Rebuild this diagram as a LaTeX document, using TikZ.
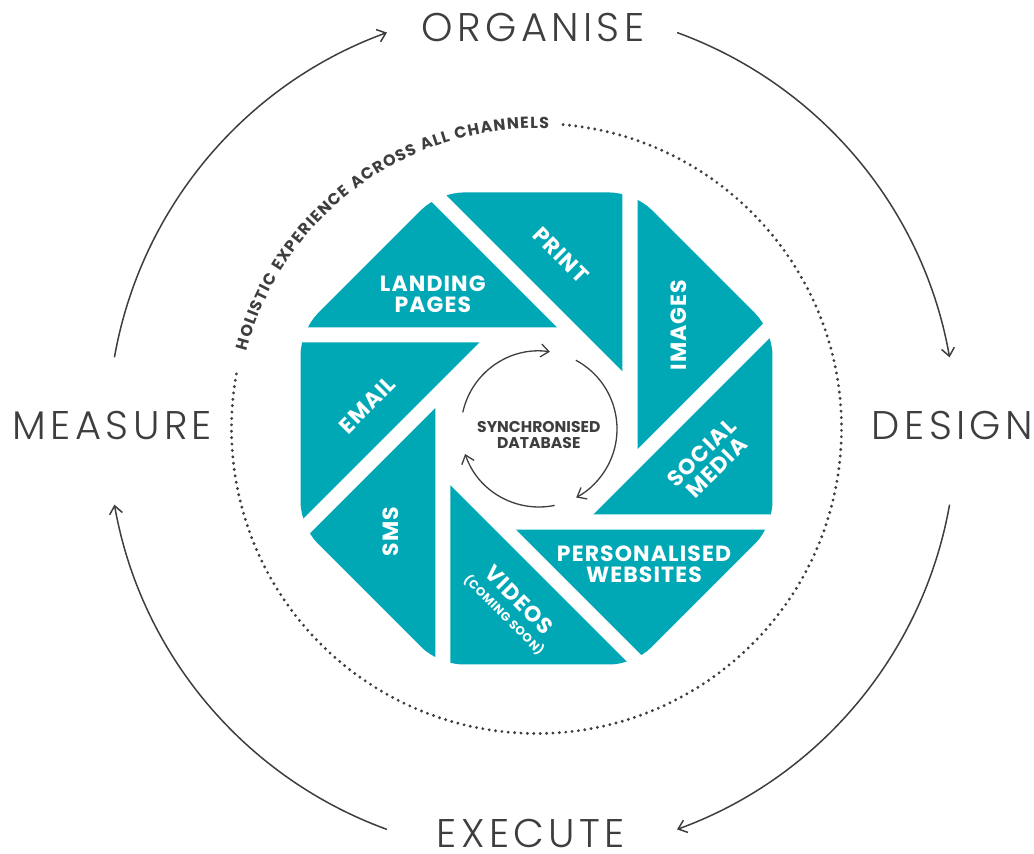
\documentclass[tikz,border=0pt]{standalone}
\usepackage{fontspec}
\setmainfont{Poppins}
\newfontfamily\thinfont[LetterSpace=11]{Poppins Light}
\newfontfamily\labelfont[LetterSpace=5]{Poppins}
\usetikzlibrary{arrows.meta,decorations.text}

\definecolor{shutter}{RGB}{0,168,181}
\definecolor{ink}{RGB}{62,62,64}

\tikzset{
  blade/.style={fill=shutter},
  bladetext/.style={text=white, font=\labelfont\bfseries\fontsize{11}{10.5}\selectfont, align=center, inner sep=0pt},
  stage/.style={text=ink, font=\thinfont\fontsize{20}{20}\selectfont, inner sep=0pt},
  cyclearrow/.style={draw=ink, line width=0.75pt, -{Straight Barb[length=4pt,width=6.5pt]}},
  dots/.style={draw=ink, line width=1.6pt, line cap=round, dash pattern=on 0pt off 3.2pt},
}

\begin{document}
\begin{tikzpicture}[x=0.5pt, y=0.5pt]
\useasboundingbox (-536.5,-425.5) rectangle (497.5,428.5);

\begin{scope}
\clip[rounded corners=12pt] (22.5:255.45) -- (67.5:255.45) -- (112.5:255.45) -- (157.5:255.45)
  -- (202.5:255.45) -- (247.5:255.45) -- (292.5:255.45) -- (337.5:255.45) -- cycle;
\fill[blade] (86,57) -- (86,300) -- (-157,300) -- cycle;
\fill[blade, rotate=-45] (86,57) -- (86,300) -- (-157,300) -- cycle;
\fill[blade, rotate=-90] (86,57) -- (86,300) -- (-157,300) -- cycle;
\fill[blade, rotate=-135] (86,57) -- (86,300) -- (-157,300) -- cycle;
\fill[blade, rotate=-180] (86,57) -- (86,300) -- (-157,300) -- cycle;
\fill[blade, rotate=-225] (86,57) -- (86,300) -- (-157,300) -- cycle;
\fill[blade, rotate=-270] (86,57) -- (86,300) -- (-157,300) -- cycle;
\fill[blade, rotate=-315] (86,57) -- (86,300) -- (-157,300) -- cycle;
\end{scope}

\node[bladetext] (landing) at (-103.7,134.7) {LANDING\\PAGES};
\node[bladetext, rotate=-45] (print) at (24.2,173.5) {PRINT};
\node[bladetext, rotate=90] (images) at (142.5,103.5) {IMAGES};
\node[bladetext, rotate=45] (social) at (172.5,-31.5) {SOCIAL\\MEDIA};
\node[bladetext] (websites) at (107.5,-135.5) {PERSONALISED\\WEBSITES};
\node[bladetext, rotate=-45] (videos) at (-24.5,-178.5) {VIDEOS\\[-1.5pt]{\fontsize{6}{6}\selectfont(COMING SOON)}};
\node[bladetext, rotate=90] (sms) at (-145.8,-103.2) {SMS};
\node[bladetext, rotate=45] (email) at (-169.2,23.5) {EMAIL};

\node[text=ink, font=\bfseries\fontsize{7.8}{8}\selectfont, align=center, inner sep=0pt] (db) at (2.3,-7) {SYNCHRONISED\\DATABASE};
\coordinate (dbc) at (2.5,-0.5);
\draw[cyclearrow, line width=0.65pt] (dbc) ++(167.7:78) arc[start angle=167.7, end angle=82, radius=78];
\draw[cyclearrow, line width=0.65pt] (dbc) ++(61.8:78) arc[start angle=61.8, end angle=-61.5, radius=78];
\draw[cyclearrow, line width=0.65pt] (dbc) ++(-78.4:78) arc[start angle=-78.4, end angle=-161.3, radius=78];

\draw[dots] (0,0) ++(85:305) arc[start angle=85, end angle=-191, radius=305];
\path[decorate, decoration={text along path, text align=fit to path,
  text={|\color{ink}\bfseries\fontsize{8}{8}\selectfont|HOLISTIC EXPERIENCE ACROSS ALL CHANNELS}}]
  (0,0) ++(165.1:300) arc[start angle=165.1, end angle=87.7, radius=300];

\node[stage] (organise) at (-3.5,400.5) {ORGANISE};
\node[stage] (design) at (416,2.5) {DESIGN};
\node[stage] (execute) at (-5.5,-405) {EXECUTE};
\node[stage] (measure) at (-424,2.5) {MEASURE};

\coordinate (hub) at (-4.5,-2.5);
\draw[cyclearrow] (hub) ++(170:424) arc[start angle=170, end angle=110, radius=424];
\draw[cyclearrow] (hub) ++(70:424) arc[start angle=70, end angle=10, radius=424];
\draw[cyclearrow] (hub) ++(-10:424) arc[start angle=-10, end angle=-70, radius=424];
\draw[cyclearrow] (hub) ++(-110:424) arc[start angle=-110, end angle=-170, radius=424];
\end{tikzpicture}
\end{document}
